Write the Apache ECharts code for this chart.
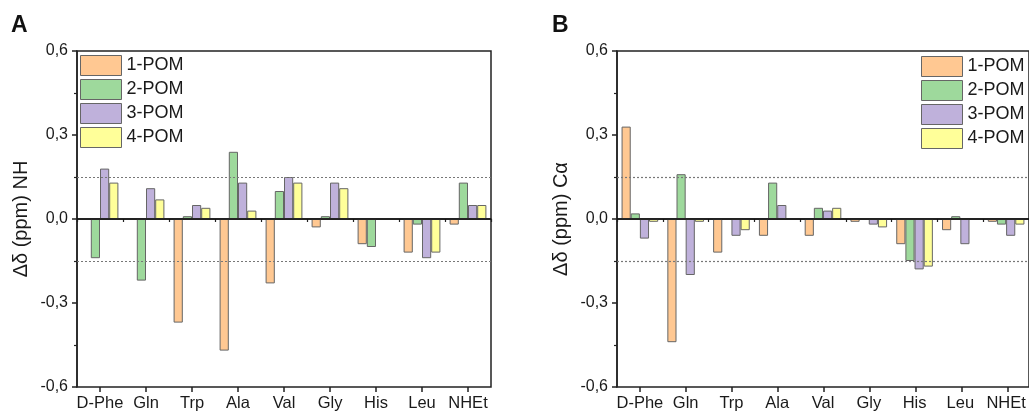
<!DOCTYPE html>
<html>
<head>
<meta charset="utf-8">
<script src="https://cdn.jsdelivr.net/npm/echarts@6/dist/echarts.min.js"></script>
<style>html,body{margin:0;padding:0;background:#fff}#c{width:1029px;height:415px}</style>
</head>
<body>
<div id="c"></div>
<script>
const categories = ['D-Phe','Gln','Trp','Ala','Val','Gly','His','Leu','NHEt'];
const seriesNames = ['1-POM','2-POM','3-POM','4-POM'];
const yTicks = {min:-0.6, max:0.6, interval:0.3};
const thresholds = [0.15, -0.15];

// Panel A: Δδ NH
const nh_1POM = [null, null, -0.37, -0.47, -0.23, -0.03, -0.09, -0.12, -0.02];
const nh_2POM = [-0.14, -0.22, 0.01, 0.24, 0.10, 0.01, -0.10, -0.02, 0.13];
const nh_3POM = [0.18, 0.11, 0.05, 0.13, 0.15, 0.13, null, -0.14, 0.05];
const nh_4POM = [0.13, 0.07, 0.04, 0.03, 0.13, 0.11, null, -0.12, 0.05];

// Panel B: Δδ Cα
const ca_1POM = [0.33, -0.44, -0.12, -0.06, -0.06, -0.01, -0.09, -0.04, -0.01];
const ca_2POM = [0.02, 0.16, null, 0.13, 0.04, null, -0.15, 0.01, -0.02];
const ca_3POM = [-0.07, -0.20, -0.06, 0.05, 0.03, -0.02, -0.18, -0.09, -0.06];
const ca_4POM = [-0.01, -0.01, -0.04, null, 0.04, -0.03, -0.17, null, -0.02];

const colors = ['#FFC892','#9ED99C','#BFB1DB','#FFFF99'];
const FONT = 'Liberation Sans, Arial, sans-serif';

const chart = echarts.init(document.getElementById('c'));

const PLOT = {top:51, height:336, width:414};
const lefts = [77, 617];
const half = PLOT.width / categories.length / 2;

const grids = [
  ...lefts.map(l=>({left:l, top:PLOT.top, width:PLOT.width, height:PLOT.height, show:true, borderColor:'#222', borderWidth:1.5})),
  // helper grids for the major ticks at category centres
  ...lefts.map(l=>({left:l+half, top:PLOT.top, width:PLOT.width-2*half, height:PLOT.height, show:false}))
];

function mainXAxis(gi){
  return {
    type:'category', gridIndex:gi, data:categories, position:'bottom',
    axisLine:{show:true, lineStyle:{color:'#222', width:1.5}},
    axisTick:{show:true, length:3, lineStyle:{color:'#222', width:1.2}},
    axisLabel:{color:'#1a1a1a', fontSize:16.5, fontFamily:FONT, margin:8, interval:0},
    splitLine:{show:false}
  };
}
function tickXAxis(gi){
  return {
    type:'value', gridIndex:gi, min:0, max:categories.length-1, interval:1, position:'bottom',
    axisLine:{show:false},
    axisTick:{show:true, length:5, lineStyle:{color:'#222', width:1.5}},
    axisLabel:{show:false}, splitLine:{show:false}
  };
}
function yAxis(gi, name){
  return {
    type:'value', gridIndex:gi, min:yTicks.min, max:yTicks.max, interval:yTicks.interval,
    name:name, nameLocation:'middle', nameGap:46, nameRotate:90,
    nameTextStyle:{color:'#1a1a1a', fontSize:20, fontFamily:FONT},
    axisLine:{show:true, lineStyle:{color:'#222', width:1.5}},
    axisTick:{show:true, length:5, lineStyle:{color:'#222', width:1.5}},
    minorTick:{show:true, splitNumber:2, length:3, lineStyle:{color:'#222', width:1.2}},
    axisLabel:{color:'#1a1a1a', fontSize:16, fontFamily:FONT, margin:9,
      formatter:v=>v.toFixed(1).replace('.',',')},
    splitLine:{show:false}, minorSplitLine:{show:false}
  };
}
function hiddenY(gi){
  return {type:'value', gridIndex:gi, min:0, max:1, show:false};
}
function barSeries(gi, arrs){
  return arrs.map((d,i)=>{
    const s = {
      name:seriesNames[i], type:'bar', xAxisIndex:gi, yAxisIndex:gi, data:d,
      barGap:'0%', barCategoryGap:'20%',
      itemStyle:{color:colors[i], borderColor:'#666', borderWidth:1},
      emphasis:{disabled:true}, animation:false
    };
    if(i===0){
      s.markLine = {
        silent:true, symbol:['none','none'], animation:false,
        label:{show:false},
        data:[
          {yAxis:0, lineStyle:{color:'#111', width:1.5, type:'solid'}},
          ...thresholds.map(t=>({yAxis:t, lineStyle:{color:'#777', width:1.2, type:[2,2]}}))
        ]
      };
    }
    return s;
  });
}
function legend(left, top){
  return {
    data:seriesNames, orient:'vertical', left:left, top:top, padding:0,
    itemWidth:41, itemHeight:20, itemGap:3, icon:'rect',
    itemStyle:{borderColor:'#666', borderWidth:1},
    textStyle:{color:'#1a1a1a', fontSize:18, fontFamily:FONT},
    selectedMode:false
  };
}

chart.setOption({
  animation:false,
  textStyle:{fontFamily:FONT},
  grid:grids,
  xAxis:[mainXAxis(0), mainXAxis(1), tickXAxis(2), tickXAxis(3)],
  yAxis:[yAxis(0,'Δδ (ppm) NH'), yAxis(1,'Δδ (ppm) Cα'), hiddenY(2), hiddenY(3)],
  legend:[legend(80,55), legend(921,56)],
  graphic:[
    {type:'text', left:11, top:14, style:{text:'A', fontSize:23, fontWeight:'bold', fill:'#111', fontFamily:FONT}},
    {type:'text', left:552, top:14, style:{text:'B', fontSize:23, fontWeight:'bold', fill:'#111', fontFamily:FONT}}
  ],
  series:[
    ...barSeries(0,[nh_1POM,nh_2POM,nh_3POM,nh_4POM]),
    ...barSeries(1,[ca_1POM,ca_2POM,ca_3POM,ca_4POM])
  ]
});
</script>
</body>
</html>
